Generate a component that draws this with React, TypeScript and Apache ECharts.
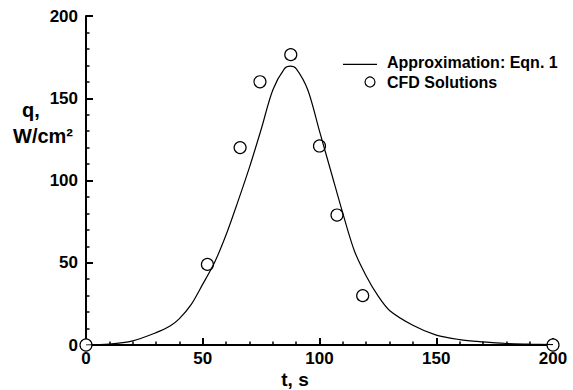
import React, { useEffect, useRef } from "react";
import * as echarts from "echarts";

// Approximation curve (Eqn. 1)
const T_CURVE = [0, 10, 20, 30, 36, 40, 45, 50, 55, 60, 65, 70, 75, 80, 85, 87.5, 90, 95, 100, 105, 110, 115, 120, 125, 130, 140, 150, 160, 170, 180, 190, 200];
const Q_CURVE = [0, 0.5, 2.5, 7.5, 11.5, 16, 24.5, 37, 50, 67, 87, 108, 131, 155, 168, 169.5, 168, 155, 130, 105, 80, 57, 42, 30, 21, 12, 6, 3.3, 1.9, 0.9, 0.5, 0.2];

// CFD solutions
const T_CFD = [0, 52, 66, 74.5, 87.7, 100, 107.5, 118.5, 200];
const Q_CFD = [0, 49, 120, 160, 176.5, 121, 79, 30, 0];

const X_TICKS = [0, 50, 100, 150, 200];
const Y_TICKS = [0, 50, 100, 150, 200];

const LEGEND_LINE = "Approximation: Eqn. 1";
const LEGEND_CFD = "CFD Solutions";
const X_TITLE = "t, s";
const Y_TITLE_1 = "q,";
const Y_TITLE_2 = "W/cm²";

const FONT = '"Liberation Sans", Arial, sans-serif';

function makeAxis(extra: any) {
  return {
    type: "value",
    interval: 50,
    axisLine: { show: true, lineStyle: { color: "#000", width: 2 } },
    axisTick: { show: true, inside: true, length: 7, lineStyle: { color: "#000", width: 2 } },
    minorTick: { show: true, splitNumber: 5, length: 3.5, lineStyle: { color: "#000", width: 1.5 } },
    splitLine: { show: true, lineStyle: { color: "rgba(0,0,0,0)", width: 0 } },
    ...extra,
  };
}

export default function App() {
  const ref = useRef<HTMLDivElement>(null);
  useEffect(() => {
    if (!ref.current) return;
    const chart = echarts.init(ref.current, undefined, { renderer: "svg" });
    chart.setOption({
      animation: false,
      backgroundColor: "#fff",
      textStyle: { fontFamily: FONT },
      grid: { left: 86, right: 20, top: 16, bottom: 45 },
      xAxis: makeAxis({
        min: X_TICKS[0],
        max: X_TICKS[X_TICKS.length - 1],
        axisLabel: { color: "#000", fontSize: 17, fontWeight: "bold", fontFamily: FONT, margin: 5 },
      }),
      yAxis: makeAxis({
        min: Y_TICKS[0],
        max: Y_TICKS[Y_TICKS.length - 1],
        axisLabel: { color: "#000", fontSize: 17, fontWeight: "bold", fontFamily: FONT, margin: 8 },
      }),
      graphic: [
        // axis titles
        { type: "text", x: 22, y: 110, z: 10, style: { text: Y_TITLE_1, fill: "#000", font: `bold 20px ${FONT}`, verticalAlign: "middle", align: "left" } },
        { type: "text", x: 13, y: 136, z: 10, style: { text: Y_TITLE_2, fill: "#000", font: `bold 20px ${FONT}`, verticalAlign: "middle", align: "left" } },
        { type: "text", x: 295, y: 379, z: 10, style: { text: X_TITLE, fill: "#000", font: `bold 19px ${FONT}`, verticalAlign: "middle", align: "center" } },
        // legend
        { type: "line", z: 10, shape: { x1: 343, y1: 64.3, x2: 377, y2: 64.3 }, style: { stroke: "#000", lineWidth: 1.2 } },
        { type: "text", x: 387, y: 62, z: 10, style: { text: LEGEND_LINE, fill: "#000", font: `bold 16px ${FONT}`, verticalAlign: "middle", align: "left" } },
        { type: "circle", z: 10, shape: { cx: 370, cy: 82, r: 5 }, style: { fill: "#fff", stroke: "#000", lineWidth: 1.2 } },
        { type: "text", x: 387, y: 82.5, z: 10, style: { text: LEGEND_CFD, fill: "#000", font: `bold 16px ${FONT}`, verticalAlign: "middle", align: "left" } },
      ],
      series: [
        {
          type: "line",
          data: T_CURVE.map((t, i) => [t, Q_CURVE[i]]),
          symbol: "none",
          smooth: 0.3,
          lineStyle: { color: "#000", width: 1.2 },
        },
        {
          type: "scatter",
          data: T_CFD.map((t, i) => [t, Q_CFD[i]]),
          symbol: "circle",
          symbolSize: 12,
          clip: false,
          itemStyle: { color: "#fff", borderColor: "#000", borderWidth: 1.2, opacity: 1 },
        },
      ],
    });
    return () => chart.dispose();
  }, []);
  return <div ref={ref} style={{ position: "fixed", left: 0, top: 0, width: 573, height: 390 }} />;
}
